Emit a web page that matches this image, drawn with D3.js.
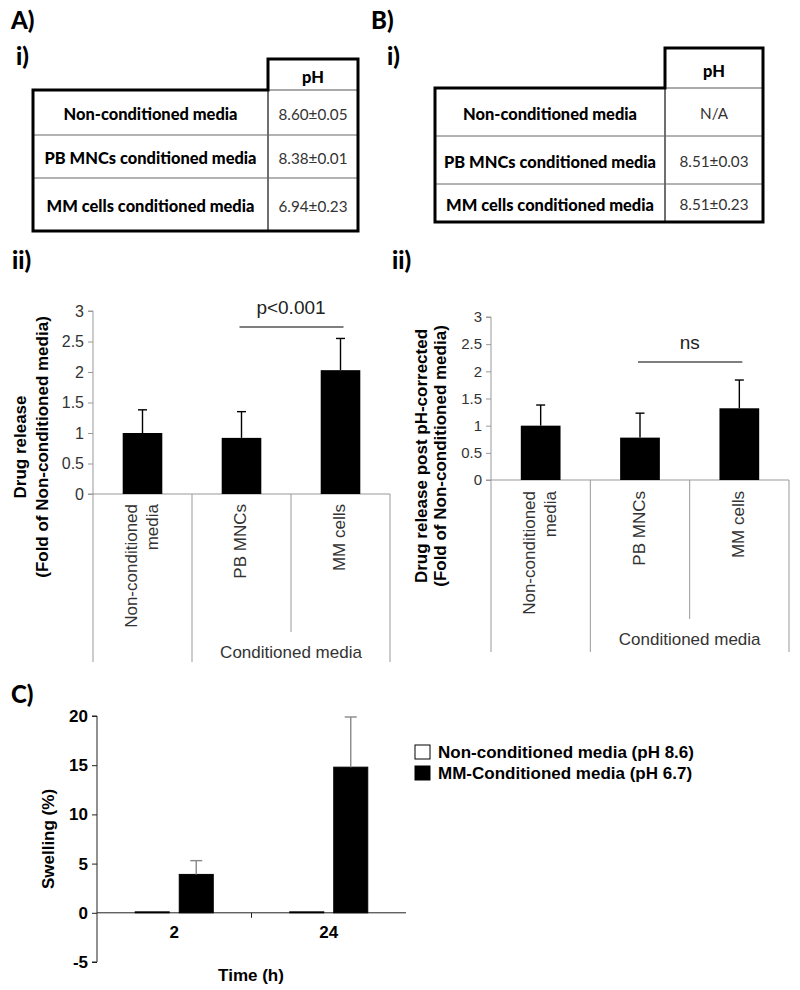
<!DOCTYPE html>
<html><head><meta charset="utf-8">
<script src="https://cdn.jsdelivr.net/npm/d3@7"></script>
<style>body{margin:0;background:#fff} svg{display:block;background:#fff}</style>
</head><body><svg id="c" width="800" height="990"></svg>
<script>
// ---------- data ----------
const tableRows = ["Non-conditioned media", "PB MNCs conditioned media", "MM cells conditioned media"];
const tableHeader = "pH";
const phA = ["8.60±0.05", "8.38±0.01", "6.94±0.23"];
const phB = ["N/A", "8.51±0.03", "8.51±0.23"];

const relCategories = ["Non-conditioned media", "PB MNCs", "MM cells"];
const relGroupLabel = "Conditioned media";
const releaseA = [1.0, 0.92, 2.03];
const releaseAErr = [0.38, 0.43, 0.52];
const releaseB = [1.0, 0.78, 1.32];
const releaseBErr = [0.38, 0.45, 0.52];
const relTicks = [0, 0.5, 1, 1.5, 2, 2.5, 3];
const labelA = ["Drug release", "(Fold of Non-conditioned media)"];
const labelB = ["Drug release post pH-corrected", "(Fold of Non-conditioned media)"];
const sigA = "p<0.001";
const sigB = "ns";

const times = ["2", "24"];
const swellSeries = ["Non-conditioned media (pH 8.6)", "MM-Conditioned media (pH 6.7)"];
const swellNon = [0.1, 0.1];
const swellMM = [3.9, 14.8];
const swellMMErr = [1.4, 5.1];
const swellTicks = [-5, 0, 5, 10, 15, 20];

// ---------- helpers ----------
const ARIAL = "'Liberation Sans', Arial, sans-serif";
const CAL = "Lato, 'Open Sans', sans-serif";
const svg = d3.select("#c");
svg.append("rect").attr("width", 800).attr("height", 990).attr("fill", "#fff");

function fitSize(text, weight, family, target) {
  const t = svg.append("text").attr("font-family", family).attr("font-weight", weight)
    .attr("font-size", 20).text(text);
  const w = t.node().getComputedTextLength();
  t.remove();
  return 20 * target / w;
}

// panel labels
const panelLabels = [["A)", 11, 29], ["i)", 16, 65], ["B)", 371, 29], ["i)", 387, 65],
  ["ii)", 12, 269], ["ii)", 392, 269], ["C)", 11, 703]];
svg.selectAll("text.panel").data(panelLabels).join("text").attr("class", "panel")
  .attr("x", d => d[1]).attr("y", d => d[2]).text(d => d[0])
  .attr("font-family", CAL).attr("font-weight", "900").attr("font-size", 24).attr("fill", "#000");

// ---------- tables ----------
const rowSize = fitSize("PB MNCs conditioned media", "bold", CAL, 211);
const valSize = fitSize("8.60±0.05", "normal", CAL, 69);

function drawTable(o, values) {
  const g = svg.append("g");
  const rowEdges = [o.top].concat(o.rows);
  g.append("line").attr("x1", o.split).attr("x2", o.right).attr("y1", o.top).attr("y2", o.top)
    .attr("stroke", "#555").attr("stroke-width", 1);
  g.append("line").attr("x1", o.split).attr("x2", o.split).attr("y1", o.top).attr("y2", o.rows[o.rows.length - 1])
    .attr("stroke", "#222").attr("stroke-width", 1.3);
  g.selectAll("line.row").data(o.rows.slice(0, -1)).join("line").attr("class", "row")
    .attr("x1", o.left).attr("x2", o.right).attr("y1", d => d).attr("y2", d => d)
    .attr("stroke", "#666").attr("stroke-width", 1);
  const bottom = o.rows[o.rows.length - 1];
  g.append("path")
    .attr("d", `M${o.left},${o.top}H${o.split}V${o.headTop}H${o.right}V${bottom}H${o.left}Z`)
    .attr("fill", "none").attr("stroke", "#000").attr("stroke-width", 3);
  g.append("text").attr("x", (o.split + o.right) / 2).attr("y", (o.headTop + o.top) / 2 + 2)
    .attr("text-anchor", "middle").attr("dominant-baseline", "central")
    .attr("font-family", CAL).attr("font-weight", "900").attr("font-size", rowSize).text(tableHeader);
  tableRows.forEach((r, i) => {
    const cy = (rowEdges[i] + rowEdges[i + 1]) / 2 + 1;
    g.append("text").attr("x", (o.left + o.split) / 2).attr("y", cy)
      .attr("text-anchor", "middle").attr("dominant-baseline", "central")
      .attr("font-family", CAL).attr("font-weight", "900").attr("font-size", rowSize).text(r);
    g.append("text").attr("x", (o.split + o.right) / 2).attr("y", cy)
      .attr("text-anchor", "middle").attr("dominant-baseline", "central").attr("fill", "#333")
      .attr("font-family", CAL).attr("font-size", valSize).text(values[i]);
  });
}
drawTable({left: 33, split: 268, right: 358, headTop: 59, top: 90, rows: [135, 178, 231]}, phA);
drawTable({left: 435, split: 665, right: 763, headTop: 48, top: 88, rows: [136, 184, 222]}, phB);

// ---------- release bar charts ----------
function drawRelease(o, vals, errs, yLabel, sig) {
  const g = svg.append("g");
  const x = d3.scaleBand().domain(relCategories).range([o.x0, o.x1]).paddingInner(0.6).paddingOuter(0.3);
  const y = d3.scaleLinear().domain([0, 3]).range([o.y0, o.y1]);
  const step = x.step();
  const ya = g.append("g").attr("transform", `translate(${o.x0},0)`)
    .call(d3.axisLeft(y).tickValues(relTicks).tickSize(5).tickPadding(4).tickFormat(d => String(d)));
  ya.select(".domain").attr("stroke", "#999").attr("d", `M-5,${y(3)}H0V${o.bottom}`);
  ya.selectAll(".tick line").attr("stroke", "#999");
  ya.selectAll(".tick text").attr("font-family", ARIAL).attr("font-size", o.tickSize).attr("fill", "#333");
  g.append("line").attr("x1", o.x0 - 5).attr("x2", o.x1).attr("y1", y(0)).attr("y2", y(0)).attr("stroke", "#999");
  const seps = [1, 2, 3].map(i => o.x0 + i * step);
  g.selectAll("line.sep").data(seps).join("line").attr("class", "sep")
    .attr("x1", d => d).attr("x2", d => d).attr("y1", y(0))
    .attr("y2", (d, i) => i === 1 ? o.midBottom : o.bottom).attr("stroke", "#999");
  g.selectAll("rect.bar").data(vals).join("rect").attr("class", "bar")
    .attr("x", (d, i) => x(relCategories[i])).attr("width", x.bandwidth())
    .attr("y", d => y(d)).attr("height", d => y(0) - y(d)).attr("fill", "#000");
  vals.forEach((v, i) => {
    const cx = x(relCategories[i]) + x.bandwidth() / 2;
    g.append("line").attr("x1", cx).attr("x2", cx).attr("y1", y(v)).attr("y2", y(v + errs[i]))
      .attr("stroke", "#000").attr("stroke-width", 1.4);
    g.append("line").attr("x1", cx - 4.5).attr("x2", cx + 4.5).attr("y1", y(v + errs[i])).attr("y2", y(v + errs[i]))
      .attr("stroke", "#000").attr("stroke-width", 1.4);
  });
  relCategories.forEach(c => {
    const lines = c.length > 10 ? c.split(" ") : [c];
    const cx = x(c) + x.bandwidth() / 2;
    lines.forEach((l, j) => {
      const off = (j - (lines.length - 1) / 2) * 21;
      g.append("text").attr("transform", `translate(${cx + off - 1},${y(0) + o.labGap}) rotate(-90)`)
        .attr("text-anchor", "end").attr("dominant-baseline", "central")
        .attr("font-family", ARIAL).attr("font-size", 17).attr("fill", "#333").text(l);
    });
  });
  g.append("text").attr("x", seps[1]).attr("y", o.groupY).attr("text-anchor", "middle")
    .attr("font-family", ARIAL).attr("font-size", 17).attr("fill", "#333").text(relGroupLabel);
  yLabel.forEach((l, j) => {
    g.append("text").attr("transform", `translate(${o.labX[j]},${o.labY}) rotate(-90)`)
      .attr("text-anchor", "middle").attr("dominant-baseline", "central")
      .attr("font-family", ARIAL).attr("font-weight", "bold").attr("font-size", o.labSize).text(l);
  });
  const x2 = x(relCategories[1]) + x.bandwidth() / 2, x3 = x(relCategories[2]) + x.bandwidth() / 2;
  g.append("line").attr("x1", x2 - 2).attr("x2", x3 + 3).attr("y1", o.sigY).attr("y2", o.sigY)
    .attr("stroke", "#000").attr("stroke-width", 1.2);
  g.append("text").attr("x", (x2 + x3) / 2).attr("y", o.sigY - 13).attr("text-anchor", "middle")
    .attr("font-family", ARIAL).attr("font-size", 19).attr("fill", "#222").text(sig);
}
drawRelease({x0: 93, x1: 390, y0: 494, y1: 311, bottom: 662, midBottom: 632, labGap: 10,
  groupY: 658, labX: [20, 42], labY: 447, labSize: 17, tickSize: 16, sigY: 327},
  releaseA, releaseAErr, labelA, sigA);
drawRelease({x0: 491, x1: 789, y0: 480, y1: 317, bottom: 652, midBottom: 619, labGap: 11,
  groupY: 645, labX: [421, 440], labY: 456, labSize: 17, tickSize: 15, sigY: 362},
  releaseB, releaseBErr, labelB, sigB);

// ---------- swelling chart ----------
(function () {
  const g = svg.append("g");
  const x = d3.scaleBand().domain(times).range([97, 406]).paddingInner(0.495).paddingOuter(0.2475);
  const xs = d3.scaleBand().domain(swellSeries).range([0, x.bandwidth()]).paddingInner(0.227);
  const y = d3.scaleLinear().domain([-5, 20]).range([962, 716]);
  const ya = g.append("g").attr("transform", "translate(97,0)")
    .call(d3.axisLeft(y).tickValues(swellTicks).tickSize(5).tickPadding(4).tickFormat(d => String(d)));
  ya.select(".domain").attr("stroke", "#222").attr("d", `M-5,${y(20)}H0V${y(-5)}H-5`);
  ya.selectAll(".tick line").attr("stroke", "#222");
  ya.selectAll(".tick text").attr("font-family", ARIAL).attr("font-weight", "bold").attr("font-size", 17).attr("fill", "#000");
  const xa = g.append("g").attr("transform", `translate(0,${y(0)})`)
    .call(d3.axisBottom(x).tickSize(0).tickPadding(13));
  xa.select(".domain").attr("stroke", "#222").attr("d", "M97,0H406");
  xa.selectAll(".tick text").attr("font-family", ARIAL).attr("font-weight", "bold").attr("font-size", 17).attr("fill", "#000");
  g.append("line").attr("x1", 97 + x.step()).attr("x2", 97 + x.step()).attr("y1", y(0)).attr("y2", y(0) + 5).attr("stroke", "#222");
  const data = times.map((t, i) => [
    {t, s: swellSeries[0], v: swellNon[i], fill: "#fff", err: null},
    {t, s: swellSeries[1], v: swellMM[i], fill: "#000", err: swellMMErr[i]}]).flat();
  data.forEach(d => {
    const bx = x(d.t) + xs(d.s);
    g.append("rect").attr("x", bx).attr("width", xs.bandwidth()).attr("y", y(d.v)).attr("height", y(0) - y(d.v))
      .attr("fill", d.fill).attr("stroke", "#000").attr("stroke-width", 1);
    if (d.err != null) {
      const cx = bx + xs.bandwidth() / 2;
      g.append("line").attr("x1", cx).attr("x2", cx).attr("y1", y(d.v)).attr("y2", y(d.v + d.err))
        .attr("stroke", "#888").attr("stroke-width", 1.4);
      g.append("line").attr("x1", cx - 6).attr("x2", cx + 6).attr("y1", y(d.v + d.err)).attr("y2", y(d.v + d.err))
        .attr("stroke", "#888").attr("stroke-width", 1.4);
    }
  });
  g.append("text").attr("transform", `translate(48,${(y(20) + y(-5)) / 2}) rotate(-90)`)
    .attr("text-anchor", "middle").attr("dominant-baseline", "central")
    .attr("font-family", ARIAL).attr("font-weight", "bold").attr("font-size", 17).text("Swelling (%)");
  g.append("text").attr("x", 251).attr("y", 981).attr("text-anchor", "middle")
    .attr("font-family", ARIAL).attr("font-weight", "bold").attr("font-size", 17).text("Time (h)");
  const fills = ["#fff", "#000"];
  swellSeries.forEach((s, i) => {
    g.append("rect").attr("x", 415).attr("y", 745 + i * 21).attr("width", 15).attr("height", 14)
      .attr("fill", fills[i]).attr("stroke", "#000").attr("stroke-width", 1);
    g.append("text").attr("x", 438).attr("y", 758 + i * 21)
      .attr("font-family", ARIAL).attr("font-weight", "bold").attr("font-size", 17).text(s);
  });
})();
</script></body></html>
